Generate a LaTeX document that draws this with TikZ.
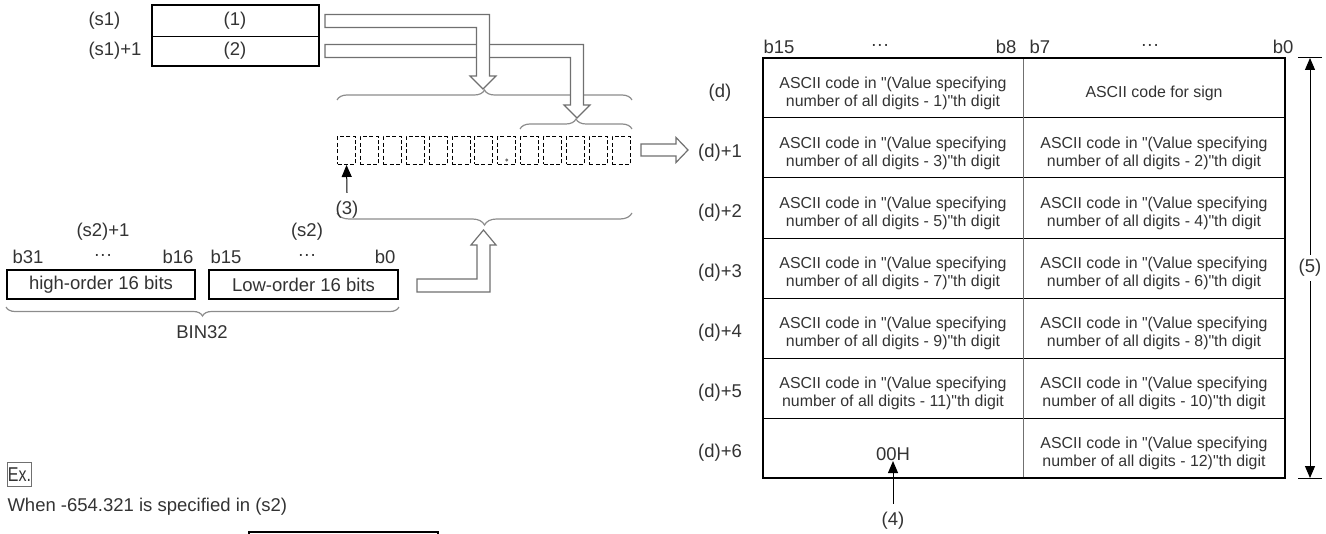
\documentclass[tikz,border=0pt]{standalone}
\usepackage{fontspec}
\setmainfont{Liberation Sans}[Ligatures=TeXOff]
\newfontfamily\narrowfont[FakeStretch=0.8]{Liberation Sans}
\usetikzlibrary{arrows.meta, decorations.pathreplacing}
\definecolor{txtgray}{HTML}{333333}
\definecolor{bandgray}{HTML}{707070}
\definecolor{bracegray}{HTML}{8C8C8C}

\begin{document}
\begin{tikzpicture}[x=0.5pt, y=-0.5pt, >={Triangle[length=6pt, width=5pt]}, line width=0.5pt,
  every node/.style={text=txtgray, inner sep=0pt, font=\fontsize{9.25}{11}\selectfont},
  word/.style={draw=black, line width=1pt, minimum width=#1, minimum height=14.5pt},
  cell/.style={draw=black, dashed, dash pattern=on 2pt off 1.2pt, minimum width=9pt, minimum height=14pt, anchor=north west},
  ascii/.style={align=center, font=\fontsize{7.95}{9}\selectfont},
  band/.style={draw=bandgray, fill=white, line width=0.6pt},
  bracket/.style={draw=bracegray, line width=0.6pt, decorate, decoration={brace, amplitude=#1}},
  bracket/.default=5pt]
  \useasboundingbox (0,0) rectangle (1326,534);
  \clip (0,0) rectangle (1326,534);

  % source words (s1), (s1)+1
  \node[anchor=west] (s1) at (88,21) {(s1)};
  \node[anchor=west] (s1n) at (88,51) {(s1)+1};
  \node[minimum width=83pt, minimum height=15pt] (w1) at (235,21) {(1)};
  \node[minimum width=83pt, minimum height=15pt] (w2) at (235,51) {(2)};
  \draw (w1.south west) -- (w1.south east);
  \draw[line width=1pt] (w1.north west) rectangle (w2.south east);

  % character cells
  \foreach \i in {0,...,12}
    \node[cell] (c\i) at ({337+22.9*\i},136) {};
  \fill[bandgray] (c7.south) ++(0,-5) circle (0.8pt);

  \draw[bracket] (337,100) -- (632,100);
  \draw[bracket] (520,129) -- (632,129);
  \draw[bracket=6pt] (632,213) -- (337,213);
  \coordinate (bigtip) at (483,89);
  \coordinate (smalltip) at (577,118);
  \coordinate (lowtip) at (483.5,230);

  \draw[band] (325,44.5) -- (583.5,44.5) -- (583.5,105) -- (590,105) -- (smalltip)
              -- (564,105) -- (570.5,105) -- (570.5,57.5) -- (325,57.5) -- cycle;
  \draw[band] (325,14.5) -- (489.5,14.5) -- (489.5,76) -- (496,76) -- (bigtip)
              -- (470,76) -- (476.5,76) -- (476.5,27.5) -- (325,27.5) -- cycle;
  \draw[band] (641,144) -- (676,144) -- (676,137.5) -- (688,150) -- (676,162.5)
              -- (676,156) -- (641,156) -- cycle;
  \draw[band] (417,279) -- (477,279) -- (477,245) -- (471,245) -- (lowtip)
              -- (496,245) -- (490,245) -- (490,292) -- (417,292) -- cycle;

  \node (n3) at (347,210) {(3)};
  \draw[->] ([yshift=4pt]n3.north) -- (c0.south);

  % BIN32 source
  \node (s2n) at (103,232) {(s2)+1};
  \node (s2) at (307,232) {(s2)};
  \node[anchor=west] (b31) at (12,257) {b31};
  \node (dl) at (103,257) {···};
  \node[anchor=east] (b16) at (194,257) {b16};
  \node[anchor=west] (b15) at (210,257) {b15};
  \node (dr) at (307,257) {···};
  \node[anchor=east] (b0) at (396,257) {b0};
  \node[word=94pt] (hi) at (101,284.5) {high-order 16 bits};
  \node[word=94.5pt] (lo) at (303.5,284.5) {Low-order 16 bits};
  \draw[bracket=4.5pt] (lo.south east) ++(0,7) -- ([yshift=-3.5pt]hi.south west);
  \node (bin) at (202,332) {BIN32};

  % destination (d) ... (d)+6
  \node[anchor=west] (t15) at (763,47) {b15};
  \node (t1) at (880,47) {···};
  \node[anchor=east] (t8) at (1017,47) {b8};
  \node[anchor=west] (t7) at (1029,47) {b7};
  \node (t2) at (1150,47) {···};
  \node[anchor=east] (t0) at (1294,47) {b0};

  \foreach \k in {1,...,6}
    \draw (763,{58+60*\k}) -- (1285,{58+60*\k});
  \draw[bandgray] (1023,58) -- (1023,478);
  \draw[line width=1pt] (763,58) rectangle (1285,478);

  \node (d0) at (720,93) {(d)};
  \foreach \k in {1,...,6}
    \node (d\k) at (720,{93+60*\k}) {(d)+\k};
  \node[ascii] (L0) at (893,93) {ASCII code in "(Value specifying\\number of all digits - 1)"th digit};
  \node[ascii] (R0) at (1154,93) {ASCII code for sign};
  \foreach \k in {1,...,5}{
    \pgfmathtruncatemacro\lo{2*\k+1}
    \pgfmathtruncatemacro\hi{2*\k}
    \node[ascii] (L\k) at (893,{93+60*\k}) {ASCII code in "(Value specifying\\number of all digits - \lo)"th digit};
    \node[ascii] (R\k) at (1154,{93+60*\k}) {ASCII code in "(Value specifying\\number of all digits - \hi)"th digit};
  }
  \node (L6) at (893,454) {00H};
  \node[ascii] (R6) at (1154,453) {ASCII code in "(Value specifying\\number of all digits - 12)"th digit};

  \node (n4) at (893,521) {(4)};
  \draw[->] ([yshift=4pt]n4.north) -- (L6.south);

  \coordinate (dimtop) at (1310,58);
  \coordinate (dimbot) at (1310,478);
  \draw (1298,58) -- (1322,58);
  \draw (1298,478) -- (1322,478);
  \draw[<->] (dimtop) -- (dimbot) node[midway, fill=white, inner ysep=2pt] (n5) {(5)};

  % example
  \node[draw=bandgray, minimum width=12pt, minimum height=12pt, anchor=west,
        font=\narrowfont\fontsize{10}{12}\selectfont] (ex) at (7,474.5) {Ex.};
  \node[anchor=west] (when) at (7,507) {When -654.321 is specified in (s2)};
  \draw[line width=1pt] (249,532) rectangle (438,570);
\end{tikzpicture}
\end{document}
